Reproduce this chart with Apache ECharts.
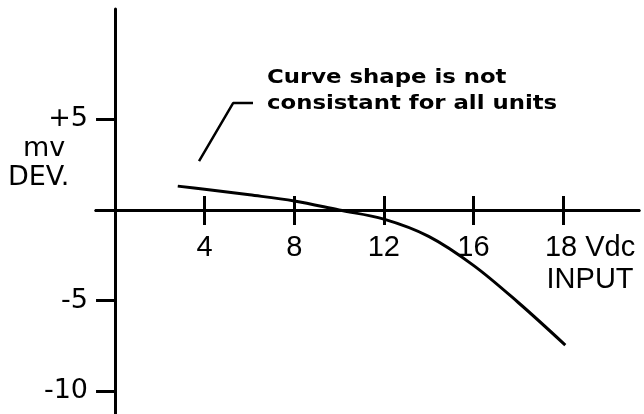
<!DOCTYPE html>
<html>
<head>
<meta charset="utf-8">
<script src="https://cdn.jsdelivr.net/npm/echarts@6/dist/echarts.min.js"></script>
<style>
    html, body { margin: 0; background: #fff; }
    #chart { width: 644px; height: 414px; }
</style>
</head>
<body>
<div id="chart"></div>
<script>
// deviation curve (mV) against input (Vdc)
let inputVdc = [2.8, 4, 6, 8, 10, 12, 14, 16, 18, 20.1]
let deviationMv = [1.32, 1.15, 0.84, 0.5, 0, -0.5, -1.45, -3.05, -5.1, -7.45]

let xTicks = [4, 8, 12, 16, 20]
let xTickLabels = ['4', '8', '12', '16', '{v|18 Vdc}\n{v|INPUT}']
let yTicks = [5, -5, -10]
let yTickLabels = ['+5', '-5', '-10']

// leader line from the note down towards the curve
let noteLineX = [3.75, 5.27, 6.16]
let noteLineY = [2.7, 5.9, 5.9]
let noteText = 'Curve shape is not\nconsistant for all units'

let ink = '#000'
let labelFont = 'Liberation Sans'
let sideFont = 'DejaVu Sans'

let yMin = -11.25, yMax = 11.09
let gridTop = 9, gridBottom = 0
// lift the x axis from the bottom edge of the grid up to y = 0
let zeroLift = -(414 - gridTop - gridBottom) * (0 - yMin) / (yMax - yMin)

let xBase = {
    type: 'value',
    position: 'bottom',
    offset: zeroLift,
    min: -0.85,
    max: 23.39,
    splitLine: { show: false },
    axisLine: { onZero: false, lineStyle: { color: ink, width: 3 } }
}

let option = {
    backgroundColor: '#fff',
    animation: false,
    grid: { left: 96, right: 5, top: gridTop, bottom: gridBottom, containLabel: false, outerBoundsMode: 'none' },
    xAxis: [
        Object.assign({}, xBase, {
            axisTick: { customValues: xTicks, length: 15, lineStyle: { color: ink, width: 3 } },
            axisLabel: {
                customValues: xTicks,
                formatter: v => xTickLabels[xTicks.indexOf(+v)],
                margin: 22,
                showMinLabel: true,
                showMaxLabel: true,
                hideOverlap: false,
                color: ink,
                fontFamily: labelFont,
                fontSize: 29,
                lineHeight: 32,
                rich: {
                    v: { fontFamily: labelFont, fontSize: 29, lineHeight: 32, color: ink, padding: [0, 0, 0, 54] }
                }
            }
        }),
        Object.assign({}, xBase, {
            axisTick: { customValues: xTicks, inside: true, length: 14, lineStyle: { color: ink, width: 3 } },
            axisLabel: { show: false }
        })
    ],
    yAxis: {
        type: 'value',
        min: yMin,
        max: yMax,
        splitLine: { show: false },
        axisLine: { onZero: true, onZeroAxisIndex: 0, lineStyle: { color: ink, width: 3 } },
        axisTick: { customValues: yTicks, length: 19, lineStyle: { color: ink, width: 3 } },
        axisLabel: {
            customValues: yTicks,
            formatter: v => yTickLabels[yTicks.indexOf(+v)],
            margin: 8,
            color: ink,
            fontFamily: sideFont,
            fontSize: 27
        }
    },
    graphic: [
        {
            type: 'text', left: 267, top: 65, scaleX: 1.2,
            style: { text: noteText, font: 'bold 19px "DejaVu Sans"', fill: ink, lineHeight: 26 }
        },
        {
            type: 'text', left: 23, top: 134,
            style: { text: 'mv', font: '27px "DejaVu Sans"', fill: ink, lineHeight: 29 }
        },
        {
            type: 'text', left: 8, top: 163,
            style: { text: 'DEV.', font: '27px "DejaVu Sans"', fill: ink, lineHeight: 29 }
        }
    ],
    series: [
        {
            type: 'line',
            smooth: 0.35,
            symbol: 'none',
            silent: true,
            lineStyle: { color: ink, width: 3 },
            data: inputVdc.map((x, i) => [x, deviationMv[i]])
        },
        {
            type: 'line',
            symbol: 'none',
            silent: true,
            lineStyle: { color: ink, width: 2.5 },
            data: noteLineX.map((x, i) => [x, noteLineY[i]])
        }
    ]
}

let chart = echarts.init(document.getElementById('chart'))
chart.setOption(option)
</script>
</body>
</html>
